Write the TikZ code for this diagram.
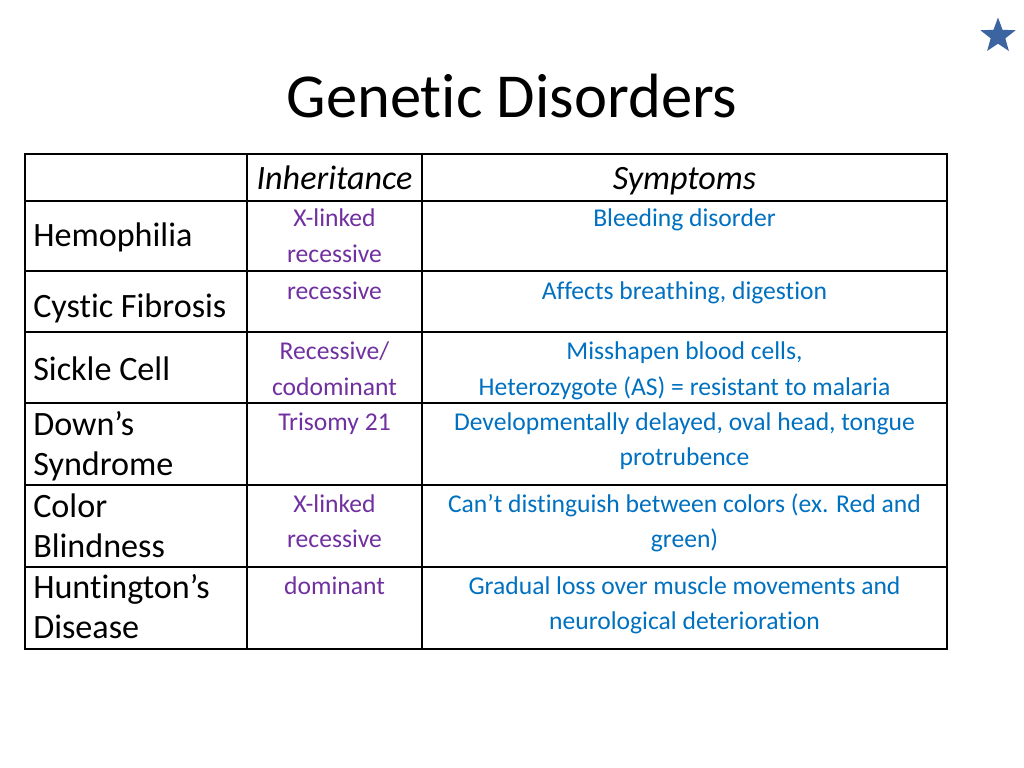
\documentclass[tikz,border=0pt]{standalone}
\usepackage{fontspec}
\setmainfont{Carlito}[Ligatures=NoCommon]
\usepackage{xcolor}
\usetikzlibrary{shapes.geometric}
\definecolor{inhcol}{HTML}{7030A0}
\definecolor{symcol}{HTML}{0070C0}
\definecolor{starcol}{HTML}{3B64A0}
\tikzset{
  disname/.style={anchor=base west, inner sep=0pt, font=\fontsize{24}{28}\selectfont},
  head/.style={anchor=base, inner sep=0pt, font=\fontsize{24}{28}\selectfont\itshape},
  inh/.style={anchor=base, inner sep=0pt, text=inhcol, font=\fontsize{18}{22}\selectfont},
  sym/.style={anchor=base, inner sep=0pt, text=symcol, font=\fontsize{18}{22}\selectfont},
  grid/.style={line width=1.1pt}
}
\begin{document}
\begin{tikzpicture}[x=0.703125pt, y=-0.703125pt]
\useasboundingbox (0,0) rectangle (1024,768);

% Title
\node[anchor=base, inner sep=0pt, font=\fontsize{44}{52}\selectfont] (title) at (512,118) {Genetic Disorders};

% Star
\node[star, star points=5, star point ratio=2.4, fill=starcol, minimum size=26pt, inner sep=0pt] (mark) at (998,36) {};

% Table grid
\draw[grid] (25,154) rectangle (947,649);
\foreach \y in {201,271,332,403,485,567}
  \draw[grid] (25,\y) -- (947,\y);
\draw[grid] (247,154) -- (247,649);
\draw[grid] (422,154) -- (422,649);

% Headers
\node[head] (hinh) at (334.5,190) {Inheritance};
\node[head] (hsym) at (684.5,190) {Symptoms};

% Disorder names
\node[disname] (hemo) at (33,247) {Hemophilia};
\node[disname] (cyst) at (33,317) {Cystic Fibrosis};
\node[disname] (sick) at (33,380) {Sickle Cell};
\node[disname] (down1) at (33,435) {Down’s};
\node[disname] (down2) at (33,475) {Syndrome};
\node[disname] (color1) at (33,517) {Color};
\node[disname] (color2) at (33,557) {Blindness};
\node[disname] (hunt1) at (33,598) {Huntington’s};
\node[disname] (hunt2) at (33,638) {Disease};

% Inheritance
\node[inh] (hemoinh1) at (334.5,227) {X-linked};
\node[inh] (hemoinh2) at (334.5,263) {recessive};
\node[inh] (cystinh) at (334.5,299) {recessive};
\node[inh] (sickinh1) at (334.5,359) {Recessive/};
\node[inh] (sickinh2) at (334.5,395) {codominant};
\node[inh] (downinh) at (334.5,430) {Trisomy 21};
\node[inh] (colorinh1) at (334.5,512) {X-linked};
\node[inh] (colorinh2) at (334.5,547) {recessive};
\node[inh] (huntinh) at (334.5,594) {dominant};

% Symptoms
\node[sym] (hemosym) at (684.5,227) {Bleeding disorder};
\node[sym] (cystsym) at (684.5,299) {Affects breathing, digestion};
\node[sym] (sicksym1) at (684.5,359) {Misshapen blood cells,};
\node[sym] (sicksym2) at (684.5,395) {Heterozygote (AS) = resistant to malaria};
\node[sym] (downsym1) at (684.5,430) {Developmentally delayed, oval head, tongue};
\node[sym] (downsym2) at (684.5,465) {protrubence};
\node[sym] (colorsym1) at (684.5,512) {Can’t distinguish between colors (ex. Red and};
\node[sym] (colorsym2) at (684.5,547) {green)};
\node[sym] (huntsym1) at (684.5,594) {Gradual loss over muscle movements and};
\node[sym] (huntsym2) at (684.5,629) {neurological deterioration};
\end{tikzpicture}
\end{document}
